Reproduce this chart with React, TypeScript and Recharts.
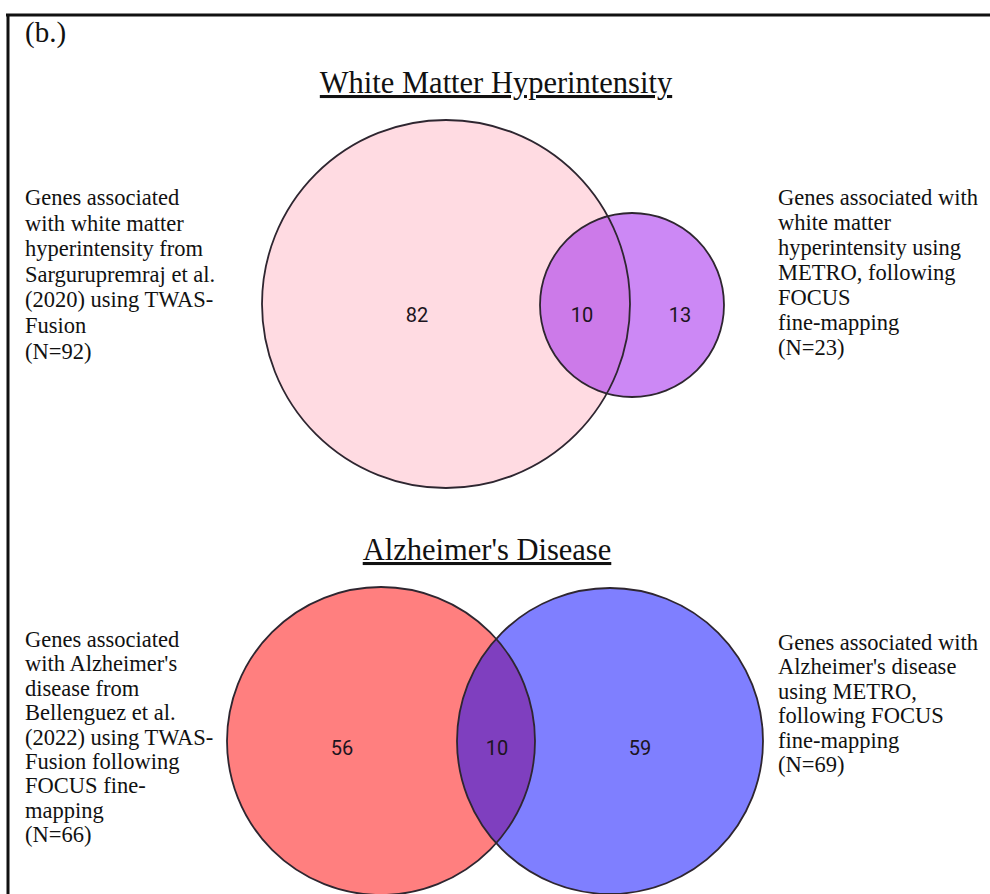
import React from 'react';
import { ScatterChart, Scatter, XAxis, YAxis, Customized } from 'recharts';

const W = 990;
const H = 894;

// sets: centre + radius in chart units (axes are 1 unit = 1px)
const wmhSets = [
  { name: 'TWAS-Fusion (N=92)', x: 446, y: 304, r: 184, fill: '#ffdbe2', opacity: 1 },
  { name: 'METRO (N=23)', x: 632, y: 305, r: 92, fill: '#aa39ee', opacity: 0.6 },
];
const adSets = [
  { name: 'TWAS-Fusion (N=66)', x: 381, y: 741, r: 154, fill: '#ff0000', opacity: 0.5 },
  { name: 'METRO (N=69)', x: 610, y: 741, r: 153, fill: '#0000ff', opacity: 0.5 },
];

// region counts
const wmhCounts = [
  { x: 417, y: 315, value: 82 },
  { x: 582, y: 315, value: 10 },
  { x: 680, y: 315, value: 13 },
];
const adCounts = [
  { x: 342, y: 748, value: 56 },
  { x: 497, y: 748, value: 10 },
  { x: 640, y: 748, value: 59 },
];

const wmhLeft = ['Genes associated', 'with white matter', 'hyperintensity from', 'Sargurupremraj et al.', '(2020) using TWAS-', 'Fusion', '(N=92)'];
const wmhRight = ['Genes associated with', 'white matter', 'hyperintensity using', 'METRO, following', 'FOCUS', 'fine-mapping', '(N=23)'];
const adLeft = ['Genes associated', "with Alzheimer's", 'disease from', 'Bellenguez et al.', '(2022) using TWAS-', 'Fusion following', 'FOCUS fine-', 'mapping', '(N=66)'];
const adRight = ['Genes associated with', "Alzheimer's disease", 'using METRO,', 'following FOCUS', 'fine-mapping', '(N=69)'];

const serif = '"Liberation Serif", "Times New Roman", serif';

const FillShape = (props: any) => {
  const { cx, cy, payload } = props;
  return <circle cx={cx} cy={cy} r={payload.r} fill={payload.fill} fillOpacity={payload.opacity} stroke="none" />;
};

const OutlineShape = (props: any) => {
  const { cx, cy, payload } = props;
  return <circle cx={cx} cy={cy} r={payload.r} fill="none" stroke="#2e2630" strokeWidth={1.8} />;
};

const CountShape = (props: any) => {
  const { cx, cy, payload } = props;
  return (
    <text x={cx} y={cy} textAnchor="middle" dominantBaseline="central" fontFamily="Roboto, sans-serif" fontSize={20} fill="#1c1420">
      {payload.value}
    </text>
  );
};

const Block = ({ lines, x, y, lh }: { lines: string[]; x: number; y: number; lh: number }) => (
  <text x={x} y={y} fontFamily={serif} fontSize={22.5} fill="#111">
    {lines.map((l, i) => (
      <tspan key={i} x={x} y={y + i * lh}>{l}</tspan>
    ))}
  </text>
);

const Annotations = () => (
  <g>
    <line x1={6} y1={15} x2={W} y2={15} stroke="#111" strokeWidth={3} />
    <line x1={8} y1={14} x2={8} y2={H} stroke="#111" strokeWidth={3} />
    <text x={25} y={42} fontFamily={serif} fontSize={29} fill="#111">(b.)</text>
    <text x={496} y={93} textAnchor="middle" fontFamily={serif} fontSize={30.5} fill="#111" style={{ textDecoration: 'underline' }}>
      White Matter Hyperintensity
    </text>
    <text x={487} y={560} textAnchor="middle" fontFamily={serif} fontSize={30.5} fill="#111" style={{ textDecoration: 'underline' }}>
      Alzheimer's Disease
    </text>
    <Block lines={wmhLeft} x={25} y={205} lh={25.6} />
    <Block lines={wmhRight} x={778} y={205} lh={25} />
    <Block lines={adLeft} x={25} y={647} lh={24.4} />
    <Block lines={adRight} x={778} y={650} lh={24.4} />
  </g>
);

export default function App() {
  return (
    <div style={{ width: W, height: H, background: '#fff' }}>
      <style>{'body{margin:0}'}</style>
      <ScatterChart width={W} height={H} margin={{ top: 0, right: 0, bottom: 0, left: 0 }}>
        <XAxis type="number" dataKey="x" domain={[0, W]} hide allowDataOverflow />
        <YAxis type="number" dataKey="y" domain={[0, H]} reversed hide allowDataOverflow />
        <Scatter data={wmhSets} shape={FillShape} isAnimationActive={false} />
        <Scatter data={adSets} shape={FillShape} isAnimationActive={false} />
        <Scatter data={wmhSets} shape={OutlineShape} isAnimationActive={false} />
        <Scatter data={adSets} shape={OutlineShape} isAnimationActive={false} />
        <Scatter data={wmhCounts} shape={CountShape} isAnimationActive={false} />
        <Scatter data={adCounts} shape={CountShape} isAnimationActive={false} />
        <Customized component={Annotations} />
      </ScatterChart>
    </div>
  );
}
